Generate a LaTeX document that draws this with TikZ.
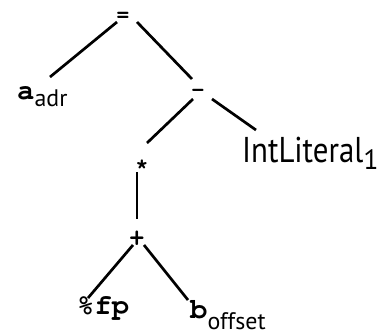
\documentclass[tikz,border=0pt]{standalone}
\usepackage{fontspec}
\setmainfont{PT Sans}
\usetikzlibrary{positioning,calc}

\newcommand{\courierbf}[1]{\fontencoding{T1}\fontfamily{pcr}\fontseries{b}\fontsize{#1}{#1}\selectfont}
\newcommand{\opfont}{\courierbf{22}}
\newcommand{\idfont}{\courierbf{29}}
\newcommand{\subfont}{\fontencoding{TU}\fontfamily{\rmdefault}\mdseries\fontsize{24}{26}\selectfont}

\begin{document}
\begin{tikzpicture}[x=1bp, y=-1bp,
        edge/.style={line width=2.7bp},
        op/.style={inner sep=0pt, anchor=base, font=\opfont},
        leaf/.style={inner sep=0pt, anchor=base west}]
        \useasboundingbox (0,0) rectangle (382,335);

        % Operators
        \node[op] (eq) at (123,21) {=};
        \node[op] (minus) at (198,96.5) {-};
        \node[op] (star) at (142,170) {*};
        \node[op, font=\courierbf{26}] (plus) at (137,245) {+};

        % Leaves
        \node[leaf] (aadr) at (17,99) {\idfont a\raisebox{-7bp}{\subfont adr}};
        \node[leaf, font=\fontsize{36}{40}\selectfont] (intlit) at (242,162)
            {\scalebox{0.86}[1]{IntLiteral}\raisebox{-7bp}{\fontsize{28}{30}\selectfont 1}};
        \node[leaf] (fp) at (77,314) {\idfont \%fp};
        \node[leaf] (boff) at (190,318) {\idfont b\raisebox{-11bp}{\subfont offset}};

        % Tree edges
        \draw[edge] ([shift={(-6,1)}]eq.base) -- ([shift={(33,-22)}]aadr.base west);
        \draw[edge] ([shift={(14,1)}]eq.base) -- ([shift={(-6,-17.5)}]minus.base);
        \draw[edge] ([shift={(-5,2.5)}]minus.base) -- ([shift={(5,-27)}]star.base);
        \draw[edge] ([shift={(14,2.5)}]minus.base) -- ([shift={(14,-32)}]intlit.base west);
        \draw[edge] ([shift={(-5,2)}]star.base) -- ([shift={(0,-26)}]plus.base);
        \draw[edge] ([shift={(-4,0)}]plus.base) -- ([shift={(11,-16)}]fp.base west);
        \draw[edge] ([shift={(7,0)}]plus.base) -- ([shift={(-2,-18)}]boff.base west);
\end{tikzpicture}
\end{document}
